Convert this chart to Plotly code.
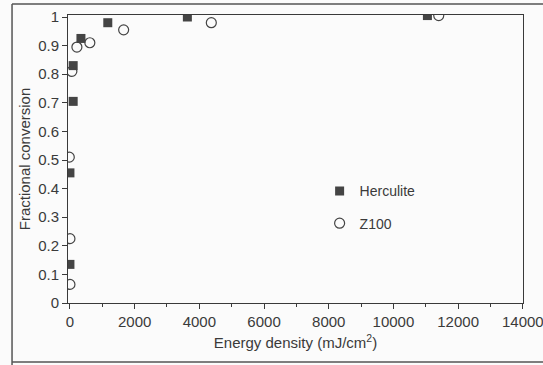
import plotly.graph_objects as go

herc_x = [0, 0, 100, 100, 340, 1170, 3630, 11050]
herc_y = [0.135, 0.455, 0.705, 0.83, 0.925, 0.98, 1.0, 1.005]
z100_x = [0, 0, -20, 60, 215, 615, 1660, 4370, 11400]
z100_y = [0.065, 0.225, 0.51, 0.81, 0.895, 0.91, 0.955, 0.98, 1.005]
x_ticks = [0, 2000, 4000, 6000, 8000, 10000, 12000, 14000]
y_ticks = [0, 0.1, 0.2, 0.3, 0.4, 0.5, 0.6, 0.7, 0.8, 0.9, 1]

ink = "#3a3a3a"
fig = go.Figure()
fig.add_trace(go.Scatter(x=herc_x, y=herc_y, mode="markers", name="Herculite",
                         legendgroup="a",
                         marker=dict(symbol="square", size=9, color="#444444",
                                     line=dict(width=0))))
fig.add_trace(go.Scatter(x=z100_x, y=z100_y, mode="markers", name="Z100",
                         legendgroup="b",
                         marker=dict(symbol="circle-open", size=10, color="#444444",
                                     line=dict(width=1.2))))

fam = "Liberation Sans, Arial, sans-serif"
fig.update_layout(
    width=543, height=365,
    margin=dict(l=68, r=20, t=15, b=62),
    paper_bgcolor="#fbfbfb", plot_bgcolor="#fbfbfb",
    font=dict(family=fam, size=15, color=ink),
    showlegend=True,
    legend=dict(x=0.553, y=0.443, xanchor="left", yanchor="top",
                bgcolor="rgba(0,0,0,0)", tracegroupgap=11,
                font=dict(family=fam, size=14, color=ink)),
    xaxis=dict(range=[-60, 14005], tickvals=x_ticks, ticktext=[str(v) for v in x_ticks],
               ticks="outside", ticklen=5, tickcolor=ink, showgrid=False, zeroline=False,
               showline=True, linecolor=ink, linewidth=1, mirror=True,
               tickfont=dict(size=15), ticklabeloverflow="allow", automargin=False,
               minor=dict(ticks="outside", ticklen=3, dtick=1000, tickcolor=ink),
               title=dict(text="Energy density (mJ/cm<sup>2</sup>)", standoff=8,
                          font=dict(size=15))),
    yaxis=dict(range=[0, 1.007], tickvals=y_ticks, ticktext=[f"{v:g}" for v in y_ticks],
               ticks="outside", ticklen=5, tickcolor=ink, showgrid=False, zeroline=False,
               showline=True, linecolor=ink, linewidth=1, mirror=True,
               tickfont=dict(size=15), automargin=False,
               title=dict(text="Fractional conversion", standoff=3, font=dict(size=15))),
)

# outer scan frame
frame = dict(color="#555555", width=1.5)
fig.add_shape(type="line", xref="paper", yref="paper", x0=-0.123, x1=1.05, y0=1.038, y1=1.038, line=frame)
fig.add_shape(type="line", xref="paper", yref="paper", x0=-0.123, x1=-0.123, y0=1.038, y1=-0.215, line=frame)
fig.add_shape(type="line", xref="paper", yref="paper", x0=-0.123, x1=1.05, y0=-0.205, y1=-0.205, line=frame)

fig.write_html("out.html")
